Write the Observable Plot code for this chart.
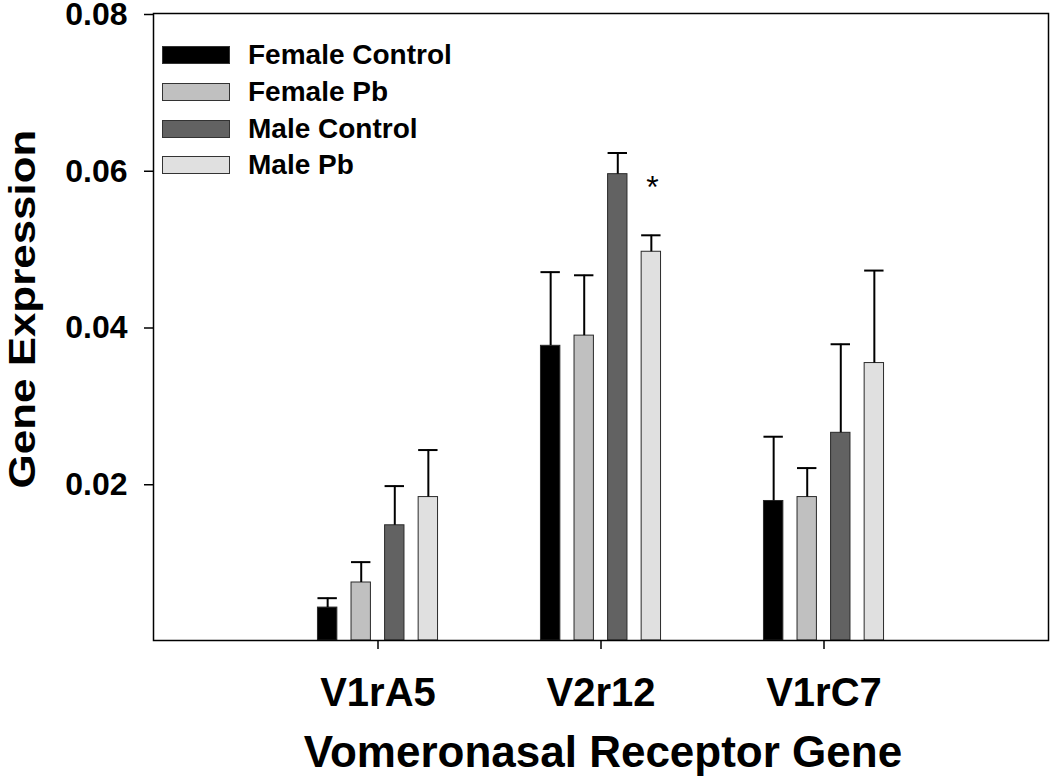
<!DOCTYPE html>
<html>
<head>
<meta charset="utf-8">
<script src="https://cdn.jsdelivr.net/npm/d3@7"></script>
<script src="https://cdn.jsdelivr.net/npm/@observablehq/plot@0.6"></script>
<style>
  html, body { margin: 0; padding: 0; background: #fff; }
  #wrap { position: relative; width: 1050px; height: 777px; font-family: "Liberation Sans", Arial, sans-serif; font-weight: bold; color: #000; }
  #wrap svg { position: absolute; left: 0; top: 0; overflow: visible; }
  .legend-row { position: absolute; left: 162px; height: 36px; display: flex; align-items: center; font-size: 28px; line-height: 1; white-space: nowrap; }
  .swatch { width: 66px; height: 16px; border: 1px solid #333; margin-right: 18px; }
  .title { position: absolute; white-space: nowrap; line-height: 1; font-size: 44px; }
</style>
</head>
<body>
<div id="wrap"></div>
<script>
// ---- data ----
const genes = ["V1rA5", "V2r12", "V1rC7"];
const seriesNames = ["Female Control", "Female Pb", "Male Control", "Male Pb"];
const seriesColors = ["#000000", "#c0c0c0", "#626262", "#e0e0e0"];
const femaleControl = [0.0042, 0.0376, 0.0178];
const femalePb      = [0.0074, 0.0389, 0.0183];
const maleControl   = [0.0147, 0.0595, 0.0265];
const malePb        = [0.0183, 0.0496, 0.0354];
const femaleControlErr = [0.0012, 0.0094, 0.0082];
const femalePbErr      = [0.0026, 0.0077, 0.0037];
const maleControlErr   = [0.0050, 0.0027, 0.0113];
const malePbErr        = [0.0060, 0.0021, 0.0118];
const yTicks = [0.02, 0.04, 0.06, 0.08];
const significance = [{gene: "V2r12", series: "Male Pb", y: 0.0578, label: "*"}];

const means = [femaleControl, femalePb, maleControl, malePb];
const errs = [femaleControlErr, femalePbErr, maleControlErr, malePbErr];
const rows = [];
seriesNames.forEach((s, si) => genes.forEach((g, gi) => {
  rows.push({gene: g, series: s, value: means[si][gi], err: errs[si][gi], top: means[si][gi] + errs[si][gi]});
}));

// ---- layout ----
const W = 1050, H = 777;
const mL = 153, mR = 2, mT = 13, mB = 137;
const bandW = (W - mL - mR) / 4;       // band per gene (paddingOuter 0.5)
const barStep = bandW * 0.15;          // spacing between bars in a group
const barW = barStep * 0.6;
const inset = (bandW - barW) / 2;

const marks = [];
seriesNames.forEach((s, i) => {
  const d = rows.filter(r => r.series === s);
  const dx = (i - 1.5) * barStep;
  marks.push(Plot.barY(d, {x: "gene", y: "value", fill: "series", stroke: "#2a2a2a", strokeWidth: 1, insetLeft: inset, insetRight: inset, dx}));
  marks.push(Plot.ruleX(d, {x: "gene", y1: "value", y2: "top", stroke: "#000", strokeWidth: 2, dx}));
  marks.push(Plot.tickY(d, {x: "gene", y: "top", stroke: "#000", strokeWidth: 2, insetLeft: inset, insetRight: inset, dx}));
});
const sigIdx = seriesNames.indexOf("Male Pb");
marks.push(Plot.text(significance, {x: "gene", y: "y", text: "label", dx: (sigIdx - 1.5) * barStep + 1, fontSize: 32, fontWeight: "normal", fill: "#000"}));
marks.push(Plot.frame({stroke: "#000", strokeWidth: 1.5}));
marks.push(Plot.axisY(yTicks, {tickSize: 9, tickPadding: 17, fontSize: 32, fontWeight: "bold", tickFormat: d3.format(".2f"), strokeWidth: 1.5, dy: 1, label: null}));
marks.push(Plot.axisX({tickSize: 9, tickPadding: 28, fontSize: 40, fontWeight: "bold", strokeWidth: 1.5, label: null}));

const chart = Plot.plot({
  width: W, height: H,
  marginLeft: mL, marginRight: mR, marginTop: mT, marginBottom: mB,
  style: {fontFamily: "'Liberation Sans', Arial, sans-serif", background: "#fff", color: "#000", overflow: "visible"},
  x: {domain: genes, paddingInner: 0, paddingOuter: 0.5},
  y: {domain: [0, 0.08], nice: false},
  color: {domain: seriesNames, range: seriesColors},
  marks
});

const wrap = document.getElementById("wrap");
wrap.appendChild(chart);

// legend (inside plot, top-left)
const legendTop = [37, 74, 111, 147];
seriesNames.forEach((s, i) => {
  const row = document.createElement("div");
  row.className = "legend-row";
  row.style.top = legendTop[i] + "px";
  const sw = document.createElement("div");
  sw.className = "swatch";
  sw.style.background = seriesColors[i];
  const lab = document.createElement("span");
  lab.textContent = s;
  row.appendChild(sw); row.appendChild(lab);
  wrap.appendChild(row);
});

// axis titles
const xt = document.createElement("div");
xt.className = "title";
xt.textContent = "Vomeronasal Receptor Gene";
xt.style.left = "603px"; xt.style.top = "730px"; xt.style.transform = "translateX(-50%)";
wrap.appendChild(xt);

const yt = document.createElement("div");
yt.className = "title";
yt.textContent = "Gene Expression";
yt.style.fontSize = "36px";
yt.style.left = "23px"; yt.style.top = "309px"; yt.style.transform = "translate(-50%,-50%) rotate(-90deg) scaleX(1.22)";
wrap.appendChild(yt);
</script>
</body>
</html>
